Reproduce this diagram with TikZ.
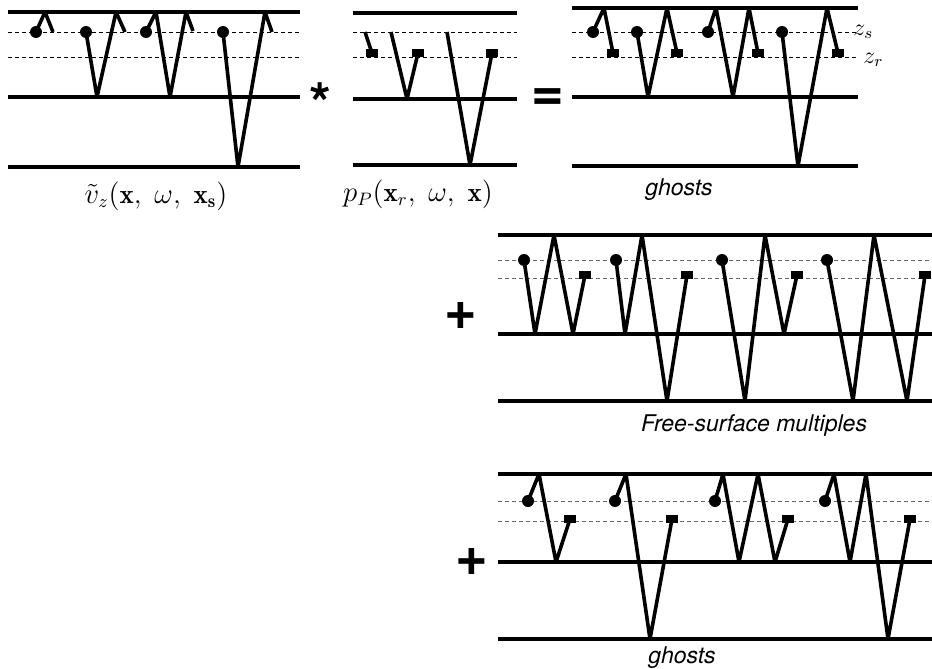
\documentclass[tikz,border=0pt]{standalone}
\usepackage{fontspec}
\newfontfamily\helv{TeX Gyre Heros}
\begin{document}
\begin{tikzpicture}[x=0.5pt,y=-0.5pt,
    layer/.style={line width=2pt},
    level/.style={line width=0.5pt,dash pattern=on 2pt off 1.5pt},
    ray/.style={line width=1.8pt,line join=round},
    src/.pic={\fill (0,0) circle (3pt);},
    rcv/.pic={\fill (-3.2pt,-2pt) rectangle (3.2pt,2pt);},
    lbl/.style={font=\helv\itshape\fontsize{11.5}{13}\selectfont,inner sep=0pt},
    mlbl/.style={font=\fontsize{13.5}{15}\selectfont,inner sep=0pt},
    zlbl/.style={font=\fontsize{12}{13}\selectfont,inner sep=0pt},
    op/.style={font=\helv\bfseries\fontsize{28}{30}\selectfont,inner sep=0pt}]
    \useasboundingbox (0,0) rectangle (932,669);

    \foreach \xa/\xb/\ya/\yb/\yc/\yd/\ye/\col in {8/300/12/32/57/97/167/black,
        353/517/13/32/57/99/165/black, 572/858/8/32/57/97/166/black,
        498/932/235/260/278/334/401/black!60, 498/932/474/501/521/562/639/black!60} {
      \draw[layer] (\xa,\ya) -- (\xb,\ya);
      \draw[layer] (\xa,\yd) -- (\xb,\yd);
      \draw[layer] (\xa,\ye) -- (\xb,\ye);
      \draw[level,\col] (\xa,\yb) -- (\xb,\yb);
      \draw[level,\col] (\xa,\yc) -- (\xb,\yc);
    }

    \draw[ray] (36,32) pic{src} -- (45,12) -- (53,32);
    \draw[ray] (86,32) pic{src} -- (97,97) -- (116,12) -- (125,32);
    \draw[ray] (146,32) pic{src} -- (156,12) -- (170,97) -- (186,12) -- (193,31);
    \draw[ray] (223,32) pic{src} -- (238,167) -- (265,12) -- (272,32);

    \draw[ray] (365,32) -- (372,53) pic{rcv};
    \draw[ray] (391,32) -- (407,99) -- (418,53) pic{rcv};
    \draw[ray] (447,32) -- (470,165) -- (492,53) pic{rcv};

    \draw[ray] (593,32) pic{src} -- (604,8) -- (613,53) pic{rcv};
    \draw[ray] (637,32) pic{src} -- (648,97) -- (667,8) -- (677,53) pic{rcv};
    \draw[ray] (708,32) pic{src} -- (716,8) -- (733,97) -- (749,8) -- (758,53) pic{rcv};
    \draw[ray] (782,32) pic{src} -- (798,166) -- (827,8) -- (838,53) pic{rcv};

    \draw[ray] (524,260) pic{src} -- (535,334) -- (554,235) -- (573,334) -- (585,275) pic{rcv};
    \draw[ray] (616,260) pic{src} -- (625,334) -- (642,235) -- (667,401) -- (687,275) pic{rcv};
    \draw[ray] (722,260) pic{src} -- (745,401) -- (765,235) -- (784,334) -- (797,275) pic{rcv};
    \draw[ray] (827,260) pic{src} -- (853,401) -- (874,235) -- (907,401) -- (925,275) pic{rcv};

    \draw[ray] (528,501) pic{src} -- (539,474) -- (556,562) -- (570,519) pic{rcv};
    \draw[ray] (615,501) pic{src} -- (626,474) -- (650,639) -- (672,519) pic{rcv};
    \draw[ray] (715,501) pic{src} -- (723,474) -- (739,562) -- (758,474) -- (775,562) -- (788,519) pic{rcv};
    \draw[ray] (825,501) pic{src} -- (834,474) -- (850,562) -- (866,474) -- (888,639) -- (910,519) pic{rcv};

    \node[op] (conv) at (320,103) {*};
    \node[op] (equal) at (548,100) {=};
    \node[op] (plusA) at (461,316) {+};
    \node[op] (plusB) at (472,562) {+};

    \node[mlbl,anchor=base] (vz) at (156,203) {$\tilde v_z(\mathbf{x},\;\omega,\;\mathbf{x_s})$};
    \node[mlbl,anchor=base] (pP) at (418,201) {$p_P(\mathbf{x}_r,\;\omega,\;\mathbf{x})$};
    \node[zlbl,anchor=base west] (zs) at (853,35) {$z_s$};
    \node[zlbl,anchor=base west] (zr) at (863,63) {$z_r$};

    \node[lbl,anchor=base] (ghostsA) at (679,195) {ghosts};
    \node[lbl,anchor=base] (fsm) at (754,431) {Free-surface multiples};
    \node[lbl,anchor=base] (ghostsB) at (682,663) {ghosts};
  \end{tikzpicture}
\end{document}
